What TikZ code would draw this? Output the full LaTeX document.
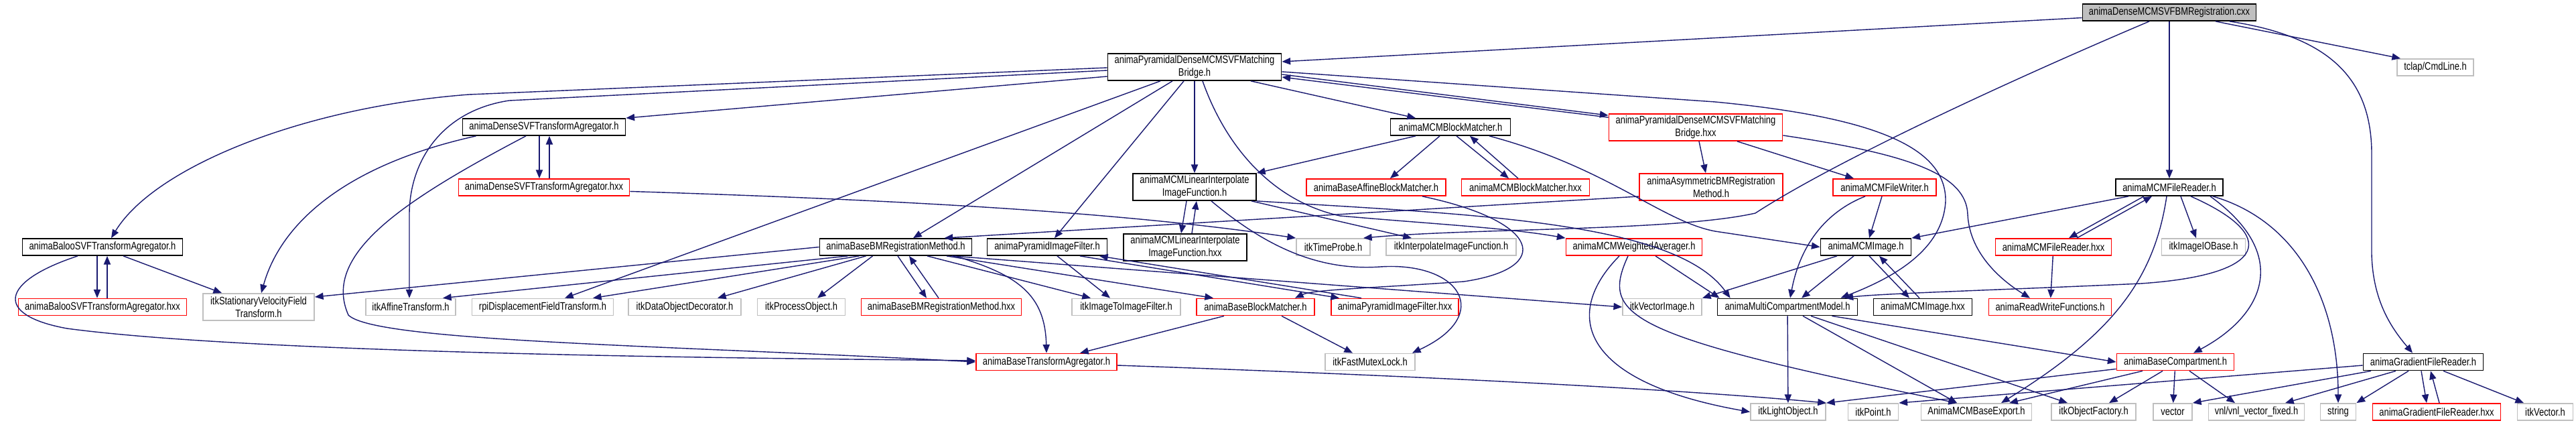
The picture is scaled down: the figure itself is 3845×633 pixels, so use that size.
\documentclass[tikz,border=0pt]{standalone}
\usepackage{fontspec}
\setmainfont{Liberation Sans}[FakeStretch=0.8]
\usetikzlibrary{arrows.meta,calc}
\definecolor{EdgeBlue}{RGB}{25,25,112}
\definecolor{ExtGray}{RGB}{191,191,191}

\begin{document}
\begin{tikzpicture}[x=0.01cm, y=-0.01cm,
  file/.style={draw=black, line width=0.5pt, fill=white, inner sep=0pt,
    minimum height=0.25cm, align=center, font=\fontsize{4.6}{4}\selectfont},
  trunc/.style={file, draw=red},
  ext/.style={file, draw=ExtGray},
  tall/.style={minimum height=0.4cm},
  w/.style={minimum width=#1cm},
  dep/.style={draw=EdgeBlue, line width=0.4pt, -{Triangle[length=3.6pt,width=2.9pt]}}]
  \useasboundingbox (0,0) rectangle (3845,633);

  % row 0 and 1
  \node[file, fill=ExtGray, w=2.59] (root) at (3238,18.5) {animaDenseMCMSVFBMRegistration.cxx};
  \node[file, tall, w=2.59] (bridge) at (1783,100) {animaPyramidalDenseMCMSVFMatching\\Bridge.h};
  \node[ext, w=1.14] (tclap) at (3635,100.5) {tclap/CmdLine.h};

  % row 2 and 3
  \node[file, w=2.43] (dsvf) at (812,189.5) {animaDenseSVFTransformAgregator.h};
  \node[file, w=1.79] (mcmbm) at (2165,189.5) {animaMCMBlockMatcher.h};
  \node[trunc, tall, w=2.59] (bridgex) at (2531,190) {animaPyramidalDenseMCMSVFMatching\\Bridge.hxx};
  \node[trunc, w=2.55] (dsvfx) at (812,279.5) {animaDenseSVFTransformAgregator.hxx};
  \node[file, tall, w=1.84] (linint) at (1783,279) {animaMCMLinearInterpolate\\ImageFunction.h};
  \node[trunc, w=2.08] (baffine) at (2054,279.5) {animaBaseAffineBlockMatcher.h};
  \node[trunc, w=1.91] (mcmbmx) at (2277,279.5) {animaMCMBlockMatcher.hxx};
  \node[trunc, tall, w=2.14] (asym) at (2554,279) {animaAsymmetricBMRegistration\\Method.h};
  \node[trunc, w=1.54] (fwriter) at (2813,279.5) {animaMCMFileWriter.h};
  \node[file, w=1.60] (freader) at (3238,279.5) {animaMCMFileReader.h};

  % row 4
  \node[file, w=2.39] (baloo) at (153,368.5) {animaBalooSVFTransformAgregator.h};
  \node[file, w=2.27] (bbm) at (1337,368.5) {animaBaseBMRegistrationMethod.h};
  \node[file, w=1.79] (pyrf) at (1563,368.5) {animaPyramidImageFilter.h};
  \node[file, tall, w=1.84] (lininx) at (1769,369) {animaMCMLinearInterpolate\\ImageFunction.hxx};
  \node[ext, w=1.10] (timeprobe) at (1990,368.5) {itkTimeProbe.h};
  \node[ext, w=1.94] (interpif) at (2166,368.5) {itkInterpolateImageFunction.h};
  \node[trunc, w=2.03] (wavg) at (2439,368.5) {animaMCMWeightedAverager.h};
  \node[file, w=1.35] (mcmimg) at (2785,368.5) {animaMCMImage.h};
  \node[trunc, w=1.73] (freaderx) at (3065,368.5) {animaMCMFileReader.hxx};
  \node[ext, w=1.25] (imageio) at (3289,368.5) {itkImageIOBase.h};

  % row 5
  \node[trunc, w=2.51] (baloox) at (153,458) {animaBalooSVFTransformAgregator.hxx};
  \node[ext, tall, w=1.66] (svf) at (386,458) {itkStationaryVelocityField\\Transform.h};
  \node[ext, w=1.34] (affine) at (613,458) {itkAffineTransform.h};
  \node[ext, w=2.11] (rpi) at (810,458) {rpiDisplacementFieldTransform.h};
  \node[ext, w=1.68] (dod) at (1022,458) {itkDataObjectDecorator.h};
  \node[ext, w=1.31] (procobj) at (1196,458) {itkProcessObject.h};
  \node[trunc, w=2.39] (bbmx) at (1405,458) {animaBaseBMRegistrationMethod.hxx};
  \node[ext, w=1.62] (i2i) at (1681,458) {itkImageToImageFilter.h};
  \node[trunc, w=1.76] (bblock) at (1874,458) {animaBaseBlockMatcher.h};
  \node[trunc, w=1.90] (pyrfx) at (2082,458) {animaPyramidImageFilter.hxx};
  \node[ext, w=1.18] (vecimg) at (2481,458) {itkVectorImage.h};
  \node[file, w=2.09] (mcm) at (2668,458) {animaMultiCompartmentModel.h};
  \node[file, w=1.47] (mcmimgx) at (2870,458) {animaMCMImage.hxx};
  \node[trunc, w=1.83] (rwf) at (3060,458) {animaReadWriteFunctions.h};

  % row 6 and 7
  \node[trunc, w=2.10] (btagg) at (1562,540) {animaBaseTransformAgregator.h};
  \node[ext, w=1.34] (mutex) at (2045,540) {itkFastMutexLock.h};
  \node[trunc, w=1.75] (bcomp) at (3247,540) {animaBaseCompartment.h};
  \node[file, w=1.79] (gread) at (3617,540) {animaGradientFileReader.h};
  \node[ext, w=1.12] (lightobj) at (2669,614.5) {itkLightObject.h};
  \node[ext, w=0.75] (point) at (2796,614.5) {itkPoint.h};
  \node[ext, w=1.65] (export) at (2950,614.5) {AnimaMCMBaseExport.h};
  \node[ext, w=1.26] (objfac) at (3125,614.5) {itkObjectFactory.h};
  \node[ext, w=0.58] (vector) at (3243,614.5) {vector};
  \node[ext, w=1.43] (vnl) at (3368,614.5) {vnl/vnl\_vector\_fixed.h};
  \node[ext, w=0.53] (string) at (3490,614.5) {string};
  \node[trunc, w=1.91] (greadx) at (3637,614.5) {animaGradientFileReader.hxx};
  \node[ext, w=0.83] (itkvec) at (3799,614.5) {itkVector.h};

  % includes of the registration tool
  \draw[dep] ($(root.west)+(0,8)$) -- ($(bridge.east)+(0,-8)$);
  \draw[dep] ($(root.south)+(69,0)$) -- ($(tclap.north)+(-52,0)$);
  \draw[dep] (root) -- (freader);
  \draw[dep] ($(root.south)+(90,0)$) .. controls (3480,55) and (3540,120) .. (3540,230) -- (3540,380) .. controls (3542,450) and (3570,490) .. ($(gread.north)+(-16,0)$);
  \draw[dep] ($(root.south)+(-30,0)$) .. controls (3000,120) and (2740,240) .. (2620,318) .. controls (2500,345) and (2200,340) .. ($(timeprobe.north)+(45,0)$);

  % bridge header
  \draw[dep] ($(bridge.west)+(0,14)$) -- (dsvf.north east);
  \draw[dep] ($(bridge.west)+(0,1)$) -- (700,141) .. controls (450,160) and (230,250) .. ($(baloo.north)+(13,0)$);
  \draw[dep] ($(bridge.west)+(0,5)$) -- (760,150) .. controls (660,165) and (611,240) .. (611,320) -- ($(affine.north)+(-2,0)$);
  \draw[dep] ($(bridge.south)+(-51,0)$) -- ($(rpi.north)+(33,0)$);
  \draw[dep] ($(bridge.south)+(-33,0)$) -- ($(bbm.north)+(26,0)$);
  \draw[dep] ($(bridge.south)+(-16,0)$) -- ($(pyrf.north)+(11,0)$);
  \draw[dep] (bridge) -- (linint);
  \draw[dep] ($(bridge.south)+(84,0)$) -- ($(mcmbm.north)+(-52,0)$);
  \draw[dep] ($(bridge.east)+(0,11)$) -- ($(bridgex.north west)+(0,3)$);
  \draw[dep] ($(bridgex.north west)+(0,6)$) -- ($(bridge.east)+(0,15)$);
  \draw[dep] ($(bridge.east)+(0,7)$) -- (2560,152) .. controls (2800,175) and (2905,220) .. (2904,300) .. controls (2900,380) and (2810,420) .. ($(mcm.north east)+(-26,0)$);
  \draw[dep] ($(bridge.south)+(12,0)$) .. controls (1830,220) and (1900,300) .. (2000,322) .. controls (2150,335) and (2250,340) .. (wavg.north west);

  % bridge implementation
  \draw[dep] ($(bridgex.south)+(5,0)$) -- ($(asym.north)+(-8,0)$);
  \draw[dep] ($(bridgex.south)+(62,0)$) -- ($(fwriter.north)+(-46,0)$);
  \draw[dep] ($(bridgex.east)+(0,12)$) .. controls (2850,230) and (2935,260) .. (2937,320) .. controls (2940,380) and (2990,420) .. ($(rwf.north)+(-30,0)$);

  % dense aggregator
  \draw[dep] ($(dsvf.south)+(-7,0)$) -- ($(dsvfx.north)+(-7,0)$);
  \draw[dep] ($(dsvfx.north)+(8,0)$) -- ($(dsvf.south)+(8,0)$);
  \draw[dep] ($(dsvf.south west)+(21,0)$) .. controls (520,245) and (420,330) .. ($(svf.north)+(4,0)$);
  \draw[dep] ($(dsvf.south)+(-27,0)$) .. controls (600,300) and (480,380) .. (520,470) .. controls (560,510) and (1000,515) .. (btagg.west);
  \draw[dep] ($(dsvfx.east)+(0,6)$) .. controls (1400,300) and (1700,320) .. (timeprobe.north west);

  % block matcher
  \draw[dep] ($(mcmbm.south)+(-16,0)$) -- ($(baffine.north)+(21,0)$);
  \draw[dep] ($(mcmbm.south)+(9,0)$) -- ($(mcmbmx.north)+(-25,0)$);
  \draw[dep] ($(mcmbmx.north)+(-11,0)$) -- ($(mcmbm.south)+(29,0)$);
  \draw[dep] ($(mcmbm.south)+(-52,0)$) -- (linint.north east);
  \draw[dep] ($(mcmbm.south)+(58,0)$) .. controls (2400,250) and (2480,330) .. (2560,345) -- (mcmimg.west);
  \draw[dep] ($(baffine.south)+(69,0)$) .. controls (2300,330) and (2320,400) .. (2185,420) .. controls (2044,430) and (1960,432) .. ($(bblock.north east)+(-30,0)$);

  % interpolation function
  \draw[dep] ($(linint.south)+(-12,0)$) -- ($(lininx.north)+(-6,0)$);
  \draw[dep] ($(lininx.north)+(10,0)$) -- ($(linint.south)+(3,0)$);
  \draw[dep] ($(linint.south)+(25,0)$) .. controls (1880,360) and (1960,405) .. (2060,398) .. controls (2180,390) and (2230,470) .. ($(mutex.north east)+(-5,0)$);
  \draw[dep] ($(linint.south east)+(-8,0)$) -- ($(interpif.north)+(-59,0)$);
  \draw[dep] (linint.south east) .. controls (2200,320) and (2500,330) .. ($(mcm.north west)+(20,0)$);

  % registration method
  \draw[dep] ($(asym.west)+(0,14)$) -- ($(bbm.north east)+(-42,0)$);
  \draw[dep] (bbm.west) -- ($(svf.east)+(0,-15)$);
  \draw[dep] ($(bbm.south west)+(43,0)$) -- ($(affine.north)+(48,0)$);
  \draw[dep] ($(bbm.south west)+(60,0)$) -- ($(rpi.north)+(75,0)$);
  \draw[dep] ($(bbm.south west)+(70,0)$) -- ($(dod.north)+(49,0)$);
  \draw[dep] ($(bbm.south west)+(80,0)$) -- ($(procobj.north)+(24,0)$);
  \draw[dep] ($(bbm.south)+(3,0)$) -- ($(bbmx.north)+(-22,0)$);
  \draw[dep] ($(bbmx.north)+(-4,0)$) -- ($(bbm.south)+(20,0)$);
  \draw[dep] ($(bbm.south)+(47,0)$) -- ($(i2i.north)+(-53,0)$);
  \draw[dep] ($(bbm.south)+(76,0)$) -- ($(bblock.north)+(-63,0)$);
  \draw[dep] ($(bbm.south)+(84,0)$) -- (vecimg.west);
  \draw[dep] ($(bbm.south)+(88,0)$) .. controls (1520,410) and (1560,440) .. (btagg.north);

  % pyramid filter
  \draw[dep] ($(pyrf.south)+(15,0)$) -- ($(i2i.north)+(-24,0)$);
  \draw[dep] ($(pyrf.south)+(49,0)$) -- ($(pyrfx.north)+(-83,0)$);
  \draw[dep] ($(pyrfx.north)+(-50,0)$) -- ($(pyrf.south)+(78,0)$);

  % baloo aggregator
  \draw[dep] ($(baloo.south)+(-8,0)$) -- ($(baloox.north)+(-8,0)$);
  \draw[dep] ($(baloox.north)+(7,0)$) -- ($(baloo.south)+(7,0)$);
  \draw[dep] ($(baloo.south)+(31,0)$) -- ($(svf.north west)+(29,0)$);
  \draw[dep] ($(baloo.south)+(-37,0)$) .. controls (0,420) and (-10,470) .. (100,490) .. controls (400,530) and (1200,535) .. ($(btagg.west)+(0,-2)$);

  % block matcher base
  \draw[dep] ($(bblock.south)+(-47,0)$) -- ($(btagg.north)+(50,0)$);
  \draw[dep] ($(bblock.south east)+(-50,0)$) -- ($(mutex.north)+(-26,0)$);
  \draw[dep] ($(btagg.east)+(0,5)$) .. controls (2100,560) and (2500,580) .. ($(lightobj.north east)+(0,0)$);

  % file writer and reader
  \draw[dep] ($(fwriter.south)+(-29,0)$) .. controls (2740,310) and (2690,350) .. ($(mcm.north)+(4,0)$);
  \draw[dep] ($(fwriter.south)+(-4,0)$) -- ($(mcmimg.north)+(5,0)$);
  \draw[dep] ($(freader.south west)+(20,0)$) -- (mcmimg.north east);
  \draw[dep] ($(freader.south)+(-38,0)$) -- ($(freaderx.north)+(23,0)$);
  \draw[dep] ($(freaderx.north)+(35,0)$) -- ($(freader.south)+(-26,0)$);
  \draw[dep] ($(freader.south)+(-4,0)$) .. controls (3215,420) and (3150,500) .. ($(export.north)+(37,0)$);
  \draw[dep] ($(freader.south)+(17,0)$) -- ($(imageio.north)+(-11,0)$);
  \draw[dep] ($(freader.south)+(32,0)$) .. controls (3400,350) and (3390,410) .. (3195,423) .. controls (3000,432) and (2800,438) .. ($(mcm.north east)+(-20,0)$);
  \draw[dep] ($(freader.south)+(61,0)$) .. controls (3420,380) and (3380,470) .. ($(bcomp.north)+(27,0)$);
  \draw[dep] ($(freader.south)+(65,0)$) .. controls (3430,330) and (3490,450) .. (string.north);
  \draw[dep] (freaderx) -- (rwf);

  % image and model
  \draw[dep] ($(mcmimg.south)+(-18,0)$) -- ($(mcm.north)+(21,0)$);
  \draw[dep] ($(mcmimg.south)+(5,0)$) -- ($(mcmimgx.north)+(-20,0)$);
  \draw[dep] ($(mcmimgx.north)+(-5,0)$) -- ($(mcmimg.south)+(20,0)$);
  \draw[dep] ($(mcmimg.south)+(-43,0)$) -- (vecimg.north east);
  \draw[dep] ($(wavg.south)+(-22,0)$) .. controls (2330,470) and (2360,570) .. (lightobj.west);
  \draw[dep] ($(wavg.south)+(-9,0)$) .. controls (2390,470) and (2420,500) .. ($(export.north)+(-29,0)$);
  \draw[dep] ($(wavg.south)+(32,0)$) -- ($(mcm.north west)+(4,0)$);
  \draw[dep] (mcm) -- (lightobj);
  \draw[dep] ($(mcm.south)+(23,0)$) -- ($(export.north)+(-29,0)$);
  \draw[dep] ($(mcm.south)+(35,0)$) -- ($(objfac.north)+(-39,0)$);
  \draw[dep] ($(mcm.south east)+(-39,0)$) -- (bcomp.west);

  % compartment and gradients
  \draw[dep] ($(bcomp.south west)+(0,-3)$) -- (lightobj.north east);
  \draw[dep] ($(bcomp.south)+(-49,0)$) -- ($(export.north)+(49,0)$);
  \draw[dep] ($(bcomp.south)+(-19,0)$) -- ($(objfac.north)+(23,0)$);
  \draw[dep] (bcomp) -- (vector);
  \draw[dep] ($(bcomp.south)+(21,0)$) -- ($(vnl.north)+(-32,0)$);
  \draw[dep] ($(gread.west)+(0,5)$) -- (point.north east);
  \draw[dep] ($(gread.south)+(-78,0)$) -- (vector.north east);
  \draw[dep] ($(gread.south)+(-41,0)$) -- ($(vnl.north)+(43,0)$);
  \draw[dep] ($(gread.south)+(-22,0)$) -- (string.north east);
  \draw[dep] ($(gread.south)+(-3,0)$) -- ($(greadx.north)+(-15,0)$);
  \draw[dep] ($(greadx.north)+(4,0)$) -- ($(gread.south)+(11,0)$);
  \draw[dep] ($(gread.south)+(30,0)$) -- ($(itkvec.north)+(-32,0)$);
\end{tikzpicture}
\end{document}
